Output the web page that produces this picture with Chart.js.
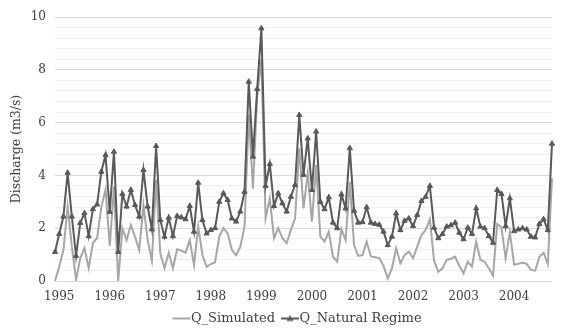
<!DOCTYPE html>
<html>
<head>
<meta charset="utf-8">
<script src="https://cdn.jsdelivr.net/npm/chart.js@4/dist/chart.umd.min.js"></script>
<style>
  html, body { margin: 0; padding: 0; background: #fff; }
  #wrap { width: 561px; height: 328px; }
</style>
</head>
<body>
<div id="wrap"><canvas id="chart" width="561" height="328"></canvas></div>
<script>
// ============================================
// Data - monthly discharge, Dec 1994 .. Oct 2004
// ============================================

const startYear = 1994;
const startMonth = 12;

const yearTicks = ['1995', '1996', '1997', '1998', '1999', '2000', '2001', '2002', '2003', '2004'];

const qSimulated = [
  0, 0.54, 1.17, 2.82, 1.3, 0.05, 0.87, 1.25, 0.49, 1.44, 1.63, 2.8,
  3.47, 1.33, 3.57, 0, 2.0, 1.55, 2.12, 1.68, 1.17, 2.88, 1.55, 0.77,
  3.83, 1.05, 0.48, 1.07, 0.48, 1.2, 1.15, 1.07, 1.55, 0.6, 2.06, 0.98,
  0.54, 0.64, 0.71, 1.68, 2.0, 1.8, 1.17, 0.98, 1.3, 2.06, 6.3, 3.5,
  7.0, 8.4, 2.37, 3.13, 1.62, 2.0, 1.62, 1.43, 1.93, 2.37, 5.03, 2.75,
  4.08, 2.25, 4.39, 1.68, 1.49, 1.87, 0.92, 0.73, 1.96, 1.55, 3.76, 1.36,
  0.95, 0.98, 1.49, 0.93, 0.9, 0.87, 0.57, 0.1, 0.48, 1.24, 0.67, 0.98,
  1.11, 0.86, 1.3, 1.74, 1.93, 2.34, 0.77, 0.35, 0.48, 0.8, 0.84, 0.92,
  0.57, 0.29, 0.73, 0.54, 1.49, 0.8, 0.73, 0.48, 0.21, 2.16, 2.03, 0.86,
  1.85, 0.62, 0.65, 0.7, 0.65, 0.42, 0.39, 0.92, 1.07, 0.64, 3.89
];

const qNatural = [
  1.1, 1.78, 2.44, 4.1, 2.44, 0.95, 2.2, 2.57, 1.7, 2.72, 2.9, 4.14,
  4.77, 2.62, 4.9, 1.1, 3.3, 2.82, 3.45, 2.88, 2.44, 4.2, 2.82, 1.96,
  5.11, 2.31, 1.68, 2.4, 1.7, 2.46, 2.41, 2.34, 2.84, 1.87, 3.72, 2.31,
  1.8, 1.93, 2.0, 3.0, 3.32, 3.07, 2.37, 2.25, 2.63, 3.38, 7.55, 4.71,
  7.27, 9.57, 3.6, 4.43, 2.84, 3.32, 2.94, 2.63, 3.19, 3.64, 6.29, 4.02,
  5.4, 3.45, 5.66, 3.0, 2.72, 3.17, 2.21, 2.0, 3.28, 2.75, 5.03, 2.66,
  2.21, 2.23, 2.79, 2.21, 2.16, 2.13, 1.87, 1.36, 1.68, 2.56, 1.93, 2.28,
  2.37, 2.08, 2.5, 3.03, 3.19, 3.6, 2.02, 1.62, 1.78, 2.06, 2.11, 2.21,
  1.83, 1.58, 2.02, 1.78, 2.75, 2.06, 2.0, 1.7, 1.45, 3.45, 3.3, 2.08,
  3.13, 1.89, 1.95, 2.0, 1.95, 1.68, 1.65, 2.16, 2.34, 1.93, 5.2
];

// ============================================
// Helpers
// ============================================

const FONT = "'DejaVu Serif', serif";
const TEXT = '#404040';
const SIM_COLOR = '#a6a6a6';
const NAT_COLOR = '#595959';

function monthLabels(count) {
  const out = [];
  let y = startYear, m = startMonth;
  for (let i = 0; i < count; i++) {
    out.push(y + '-' + String(m).padStart(2, '0'));
    m++;
    if (m > 12) { m = 1; y++; }
  }
  return out;
}

// legend swatch: short line (with triangle for the marker series),
// drawn wider than the legend box so it sits close to the text
function legendIcon(color, marker) {
  const c = document.createElement('canvas');
  c.width = 28; c.height = 10;
  const ctx = c.getContext('2d');
  ctx.strokeStyle = color;
  ctx.lineWidth = 2;
  ctx.beginPath(); ctx.moveTo(8, 5); ctx.lineTo(26, 5); ctx.stroke();
  if (marker) {
    ctx.fillStyle = color;
    ctx.beginPath(); ctx.moveTo(17, 1.5); ctx.lineTo(20.5, 7.5); ctx.lineTo(13.5, 7.5); ctx.closePath(); ctx.fill();
  }
  return c;
}

const labels = monthLabels(qNatural.length);
const icons = [legendIcon(SIM_COLOR, false), legendIcon(NAT_COLOR, true)];

// the legend in the original sits a bit right of the canvas centre
const legendShift = {
  id: 'legendShift',
  afterLayout(chart) {
    if (!chart.legend) return;
    chart.legend.left += 18;
    chart.legend.right += 18;
  }
};

// ============================================
// Chart
// ============================================

new Chart(document.getElementById('chart'), {
  type: 'line',
  data: {
    labels,
    datasets: [
      {
        label: 'Q_Simulated',
        data: qSimulated,
        borderColor: SIM_COLOR,
        backgroundColor: SIM_COLOR,
        borderWidth: 2,
        pointRadius: 0,
        tension: 0,
        order: 2
      },
      {
        label: 'Q_Natural Regime',
        data: qNatural,
        borderColor: NAT_COLOR,
        backgroundColor: NAT_COLOR,
        borderWidth: 2,
        pointStyle: 'triangle',
        pointRadius: 3,
        pointBorderWidth: 1,
        tension: 0,
        order: 1
      }
    ]
  },
  plugins: [legendShift],
  options: {
    responsive: false,
    animation: false,
    devicePixelRatio: 1,
    layout: { padding: { top: 17, right: 3, left: 0, bottom: 0 } },
    plugins: {
      tooltip: { enabled: false },
      legend: {
        position: 'bottom',
        maxHeight: 22,
        labels: {
          usePointStyle: true,
          pointStyleWidth: 12,
          padding: 6,
          color: TEXT,
          font: { family: FONT, size: 13 },
          sort: (a, b) => a.datasetIndex - b.datasetIndex,
          generateLabels(chart) {
            const items = Chart.defaults.plugins.legend.labels.generateLabels(chart);
            items.forEach(it => { it.pointStyle = icons[it.datasetIndex]; });
            return items;
          }
        }
      }
    },
    scales: {
      x: {
        type: 'category',
        offset: false,
        grid: { display: false, drawTicks: false },
        border: { display: false },
        ticks: {
          autoSkip: false,
          maxRotation: 0,
          minRotation: 0,
          padding: 9,
          color: TEXT,
          font: { family: FONT, size: 12 },
          callback: (val, i) => {
            const lab = labels[i];
            return lab.endsWith('-01') ? yearTicks[yearTicks.indexOf(lab.slice(0, 4))] : '';
          }
        },
        afterFit: s => { s.height = 25; }
      },
      y: {
        min: 0,
        max: 10,
        grid: {
          drawTicks: false,
          color: ctx => (Math.round(ctx.tick.value * 10) % 20 === 0 ? '#d9d9d9' : '#f0f0f0')
        },
        border: { display: false },
        ticks: {
          stepSize: 0.4,
          autoSkip: false,
          padding: 9,
          color: TEXT,
          font: { family: FONT, size: 12 },
          callback: v => (Math.round(v * 10) % 20 === 0 ? String(Math.round(v)) : '')
        },
        title: {
          display: true,
          text: 'Discharge (m3/s)',
          color: TEXT,
          font: { family: FONT, size: 12.5 },
          padding: { top: 9, bottom: 0 }
        },
        afterFit: s => { s.width = 55; }
      }
    }
  }
});
</script>
</body>
</html>
